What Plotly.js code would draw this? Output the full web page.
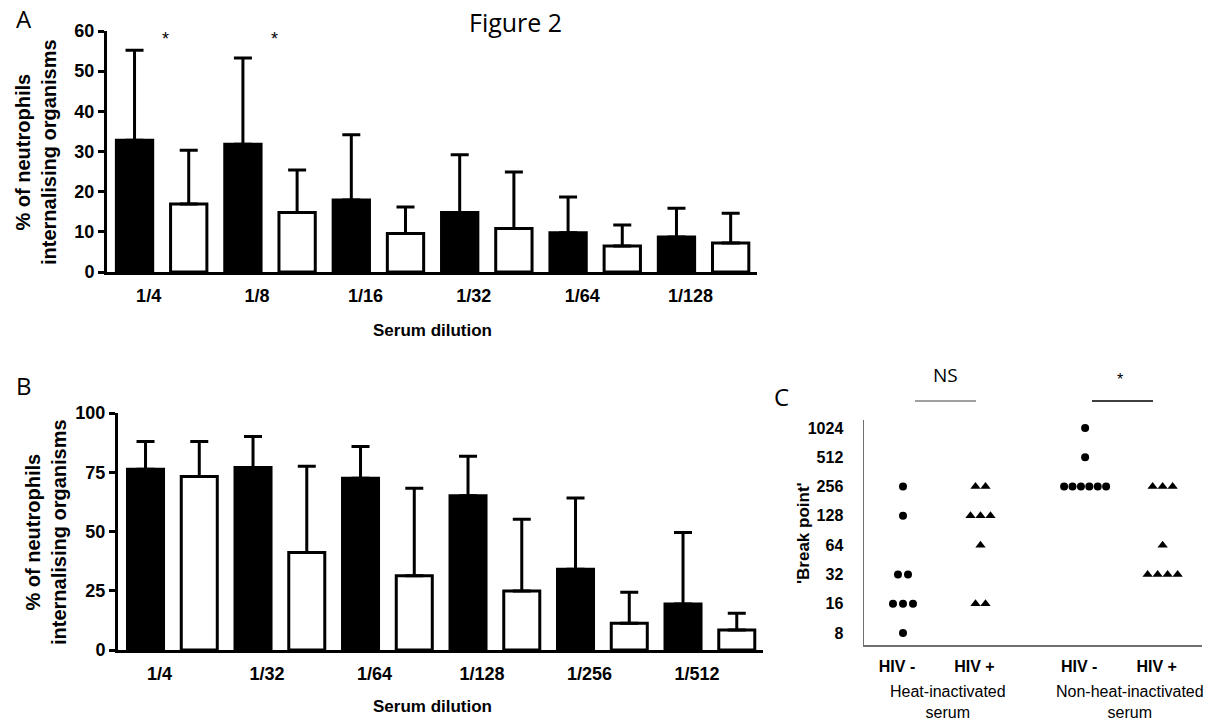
<!DOCTYPE html>
<html><head><meta charset="utf-8">
<script src="https://cdn.plot.ly/plotly-3.0.1.min.js"></script>
<style>html,body{margin:0;padding:0;background:#fff;} #chart{width:1223px;height:728px;}</style>
</head><body><div id="chart"></div>
<script>
// ---------- Panel A data ----------
const dilutionsA = ['1/4', '1/8', '1/16', '1/32', '1/64', '1/128'];
const meanA_neg = [32.8, 31.8, 17.9, 14.8, 9.8, 8.7];
const sdA_neg   = [22.4, 21.5, 16.3, 14.4, 8.9, 7.2];
const meanA_pos = [16.9, 14.8, 9.6, 10.8, 6.5, 7.2];
const sdA_pos   = [13.4, 10.6, 6.6, 14.1, 5.2, 7.4];
const starsA    = ['*', '*', '', '', '', ''];

// ---------- Panel B data ----------
const dilutionsB = ['1/4', '1/32', '1/64', '1/128', '1/256', '1/512'];
const meanB_neg = [76.3, 77.0, 72.5, 65.1, 34.1, 19.4];
const sdB_neg   = [11.7, 13.1, 13.4, 16.6, 30.0, 30.2];
const meanB_pos = [73.2, 41.1, 31.3, 24.9, 11.3, 8.4];
const sdB_pos   = [14.8, 36.4, 37.0, 30.3, 13.1, 7.1];
const starsB    = ['', '*', '*', '**', '', ''];

// ---------- Panel C data ----------
const groupLabelsC = ['HIV -', 'HIV +', 'HIV -', 'HIV +'];
const serumTypes = ['Heat-inactivated<br>serum', 'Non-heat-inactivated<br>serum'];
const bpNegHeat    = [256, 128, 32, 32, 16, 16, 16, 8];
const bpPosHeat    = [256, 256, 128, 128, 128, 64, 16, 16];
const bpNegNonHeat = [1024, 512, 256, 256, 256, 256, 256, 256];
const bpPosNonHeat = [256, 256, 256, 64, 32, 32, 32, 32];
const breakTicks = [8, 16, 32, 64, 128, 256, 512, 1024];
const significanceC = ['NS', '*'];

// ---------- layout helpers ----------
const W = 1223, H = 728;
const PX = x => x / W;
const PY = y => 1 - y / H;
const ARIAL = 'Liberation Sans, Arial, sans-serif';
const CALIBRI = 'Open Sans, Carlito, Calibri, sans-serif';
const bold = (size) => ({family: ARIAL, size: size, color: '#000', weight: 'bold'});

function barTraces(cats, meanNeg, sdNeg, meanPos, sdPos, xa, ya) {
  const errStyle = (sd) => ({type: 'data', symmetric: false, array: sd,
    arrayminus: sd.map(() => 0), color: '#000', thickness: 3, width: 9});
  return [
    {type: 'bar', name: 'HIV-negative serum', x: cats, y: meanNeg, xaxis: xa, yaxis: ya,
     marker: {color: '#000', line: {color: '#000', width: 3}},
     error_y: errStyle(sdNeg), showlegend: false, hoverinfo: 'x+y'},
    {type: 'bar', name: 'HIV-positive serum', x: cats, y: meanPos, xaxis: xa, yaxis: ya,
     marker: {color: '#fff', line: {color: '#000', width: 3}},
     error_y: errStyle(sdPos), showlegend: false, hoverinfo: 'x+y'}
  ];
}

// column-scatter spreading of tied values (horizontal px offsets)
const C_UNIT_PX = 77.5;
function spread(values, center) {
  const counts = {}, seen = {};
  values.forEach(v => counts[v] = (counts[v] || 0) + 1);
  return values.map(v => {
    const n = counts[v];
    const k = seen[v] || 0; seen[v] = k + 1;
    const sp = n > 1 ? Math.min(10, 42 / (n - 1)) : 0;
    return center + (k - (n - 1) / 2) * sp / C_UNIT_PX;
  });
}
const groupPosC = [0, 1, 2.35, 3.35];
const groupsC = [bpNegHeat, bpPosHeat, bpNegNonHeat, bpPosNonHeat];
const symbolsC = ['circle', 'triangle-up', 'circle', 'triangle-up'];
const namesC = ['HIV - heat-inactivated', 'HIV + heat-inactivated', 'HIV - non-heat-inactivated', 'HIV + non-heat-inactivated'];

const traces = [
  ...barTraces(dilutionsA, meanA_neg, sdA_neg, meanA_pos, sdA_pos, 'x', 'y'),
  ...barTraces(dilutionsB, meanB_neg, sdB_neg, meanB_pos, sdB_pos, 'x2', 'y2'),
  ...groupsC.map((vals, i) => ({
    type: 'scatter', mode: 'markers', name: namesC[i],
    x: spread(vals, groupPosC[i]), y: vals, xaxis: 'x3', yaxis: 'y3',
    marker: {symbol: symbolsC[i], color: '#000', size: symbolsC[i] === 'circle' ? 8 : 9},
    cliponaxis: false, showlegend: false
  }))
];

const annotations = [];
const addText = (x, y, text, font, extra) => annotations.push(Object.assign(
  {xref: 'paper', yref: 'paper', x: PX(x), y: PY(y), text: text, showarrow: false,
   font: font, xanchor: 'center', yanchor: 'middle'}, extra || {}));

addText(515, 22, 'Figure 2', {family: CALIBRI, size: 25, color: '#000'});
addText(24, 18, 'A', {family: CALIBRI, size: 24, color: '#000'});
addText(24, 385, 'B', {family: CALIBRI, size: 24, color: '#000'});
addText(781, 397, 'C', {family: CALIBRI, size: 24, color: '#000'});
addText(36, 152, '% of neutrophils<br>internalising organisms', bold(20), {textangle: -90});
addText(46, 532, '% of neutrophils<br>internalising organisms', bold(20), {textangle: -90});
addText(432, 331, 'Serum dilution', bold(17));
addText(432, 706, 'Serum dilution', bold(17));
addText(803, 533, "'Break point'", bold(17), {textangle: -90});
addText(948, 702, serumTypes[0], {family: ARIAL, size: 16, color: '#000'});
addText(1130, 702, serumTypes[1], {family: ARIAL, size: 16, color: '#000'});
addText(945, 375, significanceC[0], {family: CALIBRI, size: 19, color: '#000'});
addText(1120, 379, significanceC[1], {family: ARIAL, size: 16, color: '#000'});

starsA.forEach((s, i) => { if (s) annotations.push({xref: 'x', yref: 'y', x: dilutionsA[i], y: 58,
  text: s, showarrow: false, xshift: 4, font: {family: ARIAL, size: 18, color: '#000'}}); });
starsB.forEach((s, i) => { if (s) annotations.push({xref: 'x2', yref: 'y2', x: dilutionsB[i], y: 101,
  text: s, showarrow: false, xshift: 2, font: {family: ARIAL, size: 18, color: '#000'}}); });

const barX = (domain, range, shift) => ({
  domain: domain, type: 'category', range: range, showline: true, linewidth: 3, linecolor: '#000',
  ticks: '', showgrid: false, zeroline: false, tickfont: bold(18), ticklabelshift: shift,
  ticklabelstandoff: 5, fixedrange: true
});
const barY = (domain, range, dtick) => ({
  domain: domain, range: range, dtick: dtick, tick0: 0, showline: true, linewidth: 3, linecolor: '#000',
  ticks: 'outside', ticklen: 6, tickwidth: 3, tickcolor: '#000', showgrid: false, zeroline: false,
  tickfont: bold(18), fixedrange: true
});

const layout = {
  width: W, height: H, margin: {l: 0, r: 0, t: 0, b: 0},
  paper_bgcolor: '#fff', plot_bgcolor: '#fff',
  barmode: 'group', bargap: 0, bargroupgap: 0.33, showlegend: false,
  xaxis: Object.assign(barX([PX(107), PX(757)], [-0.504, 5.493], -13), {anchor: 'y'}),
  yaxis: Object.assign(barY([PY(272), PY(31)], [0, 60], 10), {anchor: 'x'}),
  xaxis2: Object.assign(barX([PX(118), PX(763)], [-0.506, 5.494], -13), {anchor: 'y2'}),
  yaxis2: Object.assign(barY([PY(650), PY(413)], [0, 100], 25), {anchor: 'x2'}),
  xaxis3: {domain: [PX(864), PX(1202)], anchor: 'y3', range: [-0.503, 3.858],
    tickvals: groupPosC, ticktext: groupLabelsC, ticks: '', showline: true, linewidth: 1.5,
    linecolor: '#707070', showgrid: false, zeroline: false, tickfont: bold(16),
    ticklabelshift: -6, ticklabelstandoff: 6, fixedrange: true},
  yaxis3: {domain: [PY(645), PY(420)], anchor: 'x3', type: 'log', range: [0.7797, 3.0925],
    tickvals: breakTicks, ticktext: breakTicks.map(String), ticks: '', showline: true,
    linewidth: 1.5, linecolor: '#707070', showgrid: false, zeroline: false, tickfont: bold(16),
    ticklabelstandoff: 16, fixedrange: true},
  shapes: [
    {type: 'line', xref: 'paper', yref: 'paper', x0: PX(915), x1: PX(976), y0: PY(401), y1: PY(401),
     line: {color: '#808080', width: 1.5}},
    {type: 'line', xref: 'paper', yref: 'paper', x0: PX(1092), x1: PX(1153), y0: PY(401), y1: PY(401),
     line: {color: '#000', width: 1.5}}
  ],
  annotations: annotations
};

Plotly.newPlot('chart', traces, layout, {displayModeBar: false, staticPlot: true});
</script>
</body></html>
